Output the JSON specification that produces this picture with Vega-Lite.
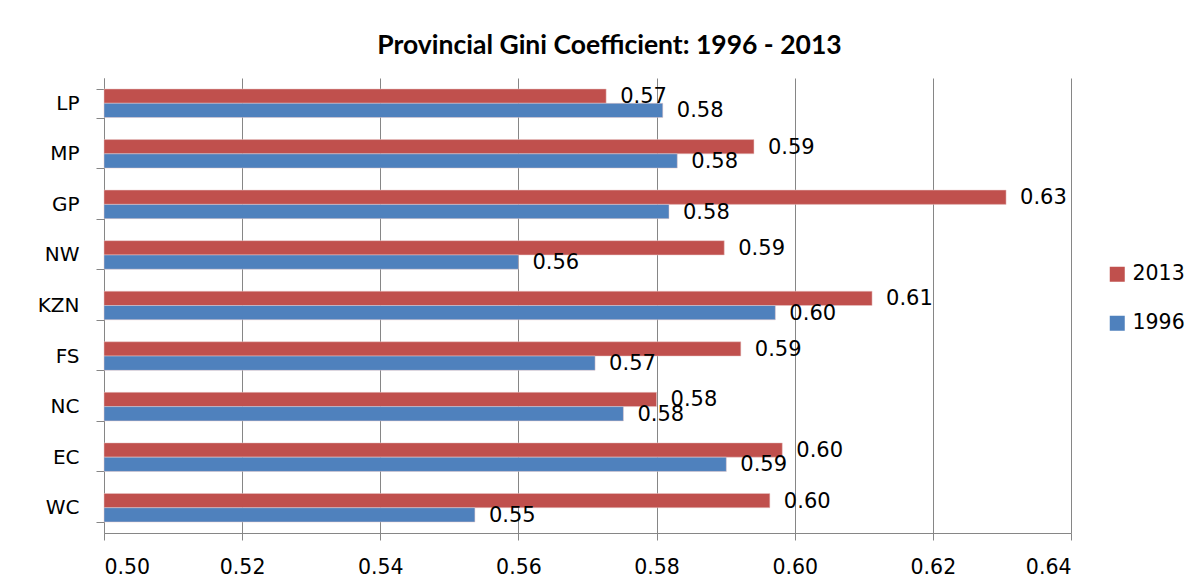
{
  "$schema": "https://vega.github.io/schema/vega-lite/v6.json",
  "width": 967,
  "height": 455,
  "autosize": {"type": "none"},
  "padding": {"left": 104, "top": 78, "right": 133, "bottom": 53},
  "background": "white",
  "title": {
    "text": "Provincial Gini Coefficient: 1996 - 2013",
    "font": "Lato",
    "fontSize": 26.5,
    "fontWeight": "bold",
    "color": "black",
    "anchor": "middle",
    "baseline": "alphabetic",
    "offset": -12,
    "dx": 22
  },
  "data": {
    "values": [
      {"province": "LP", "year": "2013", "gini": 0.5727},
      {"province": "LP", "year": "1996", "gini": 0.5809},
      {"province": "MP", "year": "2013", "gini": 0.5941},
      {"province": "MP", "year": "1996", "gini": 0.5830},
      {"province": "GP", "year": "2013", "gini": 0.6306},
      {"province": "GP", "year": "1996", "gini": 0.5818},
      {"province": "NW", "year": "2013", "gini": 0.5898},
      {"province": "NW", "year": "1996", "gini": 0.5600},
      {"province": "KZN", "year": "2013", "gini": 0.6112},
      {"province": "KZN", "year": "1996", "gini": 0.5972},
      {"province": "FS", "year": "2013", "gini": 0.5922},
      {"province": "FS", "year": "1996", "gini": 0.5711},
      {"province": "NC", "year": "2013", "gini": 0.5800},
      {"province": "NC", "year": "1996", "gini": 0.5752},
      {"province": "EC", "year": "2013", "gini": 0.5982},
      {"province": "EC", "year": "1996", "gini": 0.5901},
      {"province": "WC", "year": "2013", "gini": 0.5964},
      {"province": "WC", "year": "1996", "gini": 0.5537}
    ]
  },
  "encoding": {
    "y": {
      "field": "province",
      "type": "nominal",
      "sort": ["LP", "MP", "GP", "NW", "KZN", "FS", "NC", "EC", "WC"],
      "scale": {"paddingInner": 0.435, "paddingOuter": 0.2175},
      "axis": {
        "title": null,
        "tickBand": "extent",
        "domainColor": "#868686",
        "tickColor": "#868686",
        "tickSize": 8,
        "labelPadding": 17,
        "labelFont": "DejaVu Sans",
        "labelFontSize": 20,
        "labelColor": "black",
        "grid": false
      }
    },
    "yOffset": {
      "field": "year",
      "type": "nominal",
      "scale": {"domain": ["2013", "1996"], "paddingInner": 0, "paddingOuter": 0}
    },
    "x": {
      "field": "gini",
      "type": "quantitative",
      "scale": {"domain": [0.5, 0.64], "zero": false, "nice": false},
      "axis": {
        "title": null,
        "values": [0.5, 0.52, 0.54, 0.56, 0.58, 0.6, 0.62, 0.64],
        "format": ".2f",
        "grid": true,
        "gridColor": "#868686",
        "gridOpacity": 1,
        "domainColor": "#868686",
        "tickColor": "#868686",
        "tickSize": 7,
        "labelPadding": 17,
        "labelFont": "DejaVu Sans",
        "labelFontSize": 20.5,
        "labelColor": "black"
      }
    }
  },
  "layer": [
    {
      "mark": {"type": "bar", "stroke": "#e8c8c8", "strokeWidth": 0.5},
      "encoding": {
        "x2": {"datum": 0.5},
        "color": {
          "field": "year",
          "type": "nominal",
          "scale": {"domain": ["2013", "1996"], "range": ["#C0504D", "#4F81BD"]},
          "legend": {
            "title": null,
            "orient": "none",
            "legendX": 1003,
            "legendY": 186,
            "symbolType": "square",
            "symbolSize": 225,
            "symbolStrokeWidth": 0,
            "labelFont": "DejaVu Sans",
            "labelFontSize": 20.5,
            "labelColor": "black",
            "rowPadding": 28,
            "labelOffset": 5,
            "padding": 0
          }
        }
      }
    },
    {
      "mark": {
        "type": "text",
        "align": "left",
        "baseline": "middle",
        "dx": 14,
        "dy": 1,
        "font": "DejaVu Sans",
        "fontSize": 21,
        "color": "black"
      },
      "encoding": {
        "text": {"field": "gini", "type": "quantitative", "format": ".2f"}
      }
    }
  ],
  "config": {
    "view": {"stroke": null}
  }
}
